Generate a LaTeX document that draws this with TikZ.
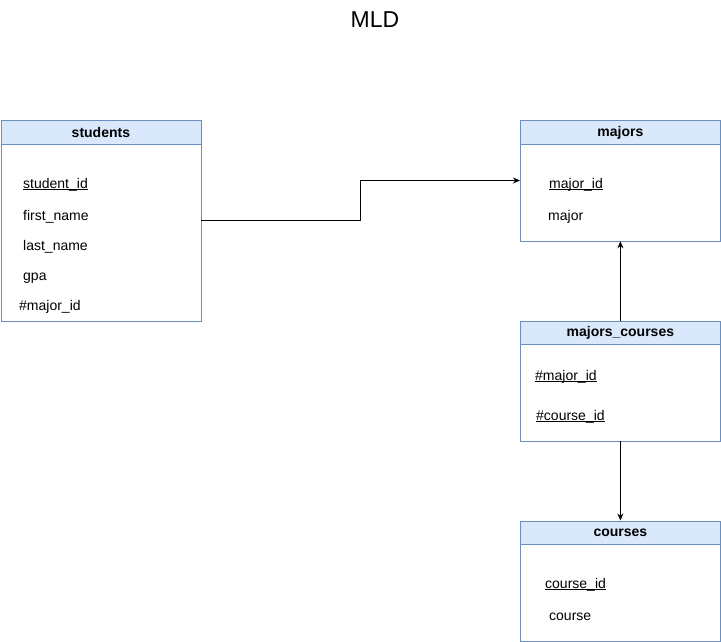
\documentclass[tikz,border=0pt]{standalone}
\usepackage{fontspec}
\setmainfont{Liberation Sans}
\usetikzlibrary{arrows.meta}
\definecolor{hdrfill}{HTML}{DAE8FC}
\definecolor{hdrline}{HTML}{6C8EBF}
\newcommand\ulkey[1]{\setbox0\hbox{#1}\rlap{\rule[-2.2pt]{\wd0}{0.8pt}}\box0}
\begin{document}
\begin{tikzpicture}[x=1pt,y=-1pt,
  tbody/.style={draw=hdrline,fill=white,line width=0.8pt,minimum width=200pt,inner sep=0pt,anchor=north west},
  thead/.style={draw=hdrline,fill=hdrfill,line width=0.8pt,minimum width=200pt,minimum height=23pt,inner sep=0pt,anchor=north west,font=\fontsize{14}{16}\selectfont\bfseries},
  field/.style={anchor=base west,inner sep=0pt,font=\fontsize{14}{16}\selectfont},
  link/.style={draw=black,line width=0.8pt,-{Stealth[length=7pt,width=6pt]}}]
\useasboundingbox (0,0) rectangle (721,642);
\node[font=\fontsize{23}{26}\selectfont] (title) at (375,20) {MLD};
% students
\node[tbody,minimum height=200pt] (studentsbody) at (0.5,120.5) {};
\node[thead] (students) at (0.5,120.5) {students};
\node[field] (sid) at (23,188) {\ulkey{student\_id}};
\node[field] (fname) at (23,220) {first\_name};
\node[field] (lname) at (23,250) {last\_name};
\node[field] (gpa) at (23,280) {gpa};
\node[field] (smid) at (19,310) {\#major\_id};
% majors
\node[tbody,minimum height=120pt] (majorsbody) at (520,120.5) {};
\node[thead] (majors) at (520,120.5) {majors};
\node[field] (mid) at (549,188) {\ulkey{major\_id}};
\node[field] (mname) at (548,220) {major};
% majors_courses
\node[tbody,minimum height=120pt] (mcbody) at (520,320.5) {};
\node[thead] (mc) at (520,320.5) {majors\_courses};
\node[field] (mcmid) at (535,380) {\ulkey{\#major\_id}};
\node[field] (mccid) at (536,420) {\ulkey{\#course\_id}};
% courses
\node[tbody,minimum height=120pt] (coursesbody) at (520,520.5) {};
\node[thead] (courses) at (520,520.5) {courses};
\node[field] (cid) at (545,588) {\ulkey{course\_id}};
\node[field] (cname) at (549,620) {course};
% connectors
\coordinate (bend) at (360.5,220.5);
\draw[link] (studentsbody.east |- bend) -- (bend) |- (majorsbody.west |- 0,180.5);
\draw[link] (mc.north) -- (majorsbody.south);
\draw[link] (mcbody.south) -- (courses.north);
\end{tikzpicture}
\end{document}
